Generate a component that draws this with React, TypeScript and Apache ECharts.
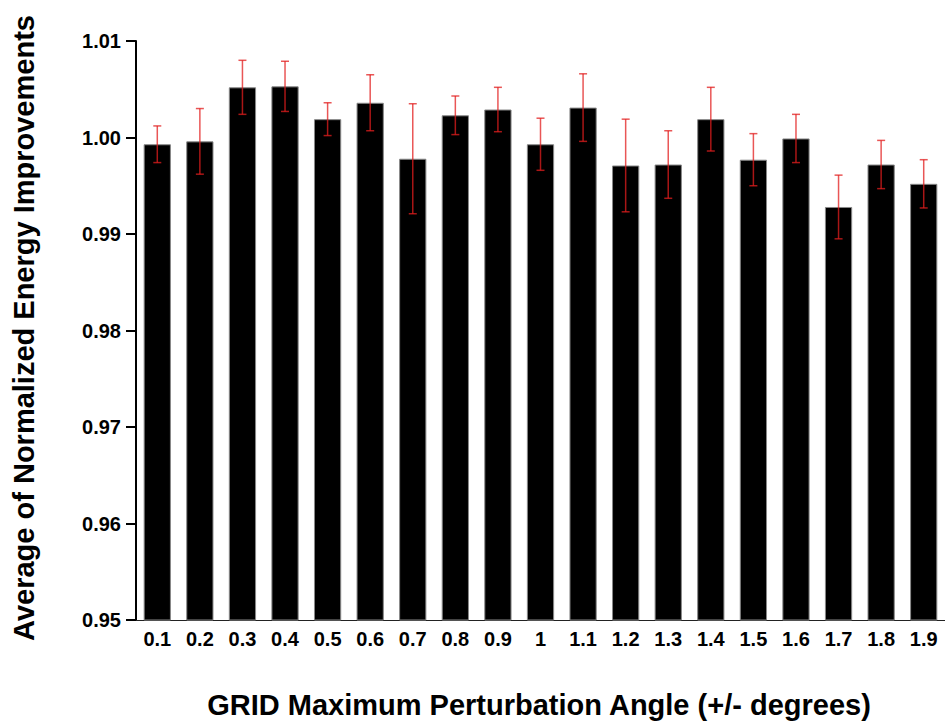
import React, { useEffect, useRef } from "react";
import * as echarts from "echarts";

// Perturbation angle categories (degrees)
const categories = [
  "0.1", "0.2", "0.3", "0.4", "0.5", "0.6", "0.7", "0.8", "0.9", "1",
  "1.1", "1.2", "1.3", "1.4", "1.5", "1.6", "1.7", "1.8", "1.9",
];

// Average normalized energy improvement per angle
const means = [
  0.9993, 0.9996, 1.0052, 1.0053, 1.0019, 1.0036, 0.9978, 1.0023, 1.0029, 0.9993,
  1.0031, 0.9971, 0.9972, 1.0019, 0.9977, 0.9999, 0.9928, 0.9972, 0.9952,
];

// Symmetric error (± value) per angle
const errors = [
  0.0019, 0.0034, 0.0028, 0.0026, 0.0017, 0.0029, 0.0057, 0.002, 0.0023, 0.0027,
  0.0035, 0.0048, 0.0035, 0.0033, 0.0027, 0.0025, 0.0033, 0.0025, 0.0025,
];

const yTicks = { min: 0.95, max: 1.01, interval: 0.01 };

const FONT = "'Liberation Sans', Arial, Helvetica, sans-serif";

export default function App() {
  const ref = useRef<HTMLDivElement>(null);

  useEffect(() => {
    if (!ref.current) return;
    const chart = echarts.init(ref.current, null, { renderer: "svg" });

    const errorData = categories.map((_, i) => [i, means[i], errors[i]]);

    chart.setOption({
      animation: false,
      backgroundColor: "#ffffff",
      grid: { left: 136, top: 41, width: 817, height: 579, containLabel: false },
      xAxis: {
        type: "category",
        data: categories,
        axisLine: { show: true, lineStyle: { color: "#222", width: 1 } },
        axisTick: { show: false },
        axisLabel: {
          color: "#000",
          fontFamily: FONT,
          fontWeight: "bold",
          fontSize: 20,
          margin: 9,
          interval: 0,
        },
      },
      yAxis: {
        type: "value",
        min: yTicks.min,
        max: yTicks.max,
        interval: yTicks.interval,
        splitLine: { show: false },
        axisLine: { show: true, lineStyle: { color: "#000", width: 2 } },
        axisTick: { show: true, length: 10, lineStyle: { color: "#000", width: 2 } },
        axisLabel: {
          color: "#000",
          fontFamily: FONT,
          fontWeight: "bold",
          fontSize: 20,
          margin: 15,
          formatter: (v: number) => v.toFixed(2),
        },
      },
      graphic: [
        {
          type: "text",
          x: 24,
          y: 328,
          rotation: Math.PI / 2,
          style: {
            text: "Average of Normalized Energy Improvements",
            fontFamily: FONT,
            fontWeight: "bold",
            fontSize: 29,
            fill: "#000",
            textAlign: "center",
            textVerticalAlign: "middle",
          },
        },
        {
          type: "text",
          x: 539,
          y: 705,
          style: {
            text: "GRID Maximum Perturbation Angle (+/- degrees)",
            fontFamily: FONT,
            fontWeight: "bold",
            fontSize: 29,
            fill: "#000",
            textAlign: "center",
            textVerticalAlign: "middle",
          },
        },
      ],
      series: [
        {
          type: "bar",
          data: means,
          barWidth: "64%",
          itemStyle: { color: "#000", borderColor: "#888", borderWidth: 1 },
          clip: true,
          z: 2,
        },
        {
          type: "custom",
          data: errorData,
          z: 3,
          renderItem: (params: any, api: any) => {
            const i = api.value(0);
            const m = api.value(1);
            const e = api.value(2);
            const top = api.coord([i, m + e]);
            const bot = api.coord([i, m - e]);
            const cap = 4;
            const style = { stroke: "rgb(225,30,30)", lineWidth: 1.5, opacity: 0.75 };
            return {
              type: "group",
              children: [
                { type: "line", shape: { x1: top[0], y1: top[1], x2: bot[0], y2: bot[1] }, style },
                { type: "line", shape: { x1: top[0] - cap, y1: top[1], x2: top[0] + cap, y2: top[1] }, style },
                { type: "line", shape: { x1: bot[0] - cap, y1: bot[1], x2: bot[0] + cap, y2: bot[1] }, style },
              ],
            };
          },
        },
      ],
    });

    return () => chart.dispose();
  }, []);

  return (
    <div
      ref={ref}
      style={{ position: "fixed", left: 0, top: 0, width: 945, height: 721 }}
    />
  );
}
